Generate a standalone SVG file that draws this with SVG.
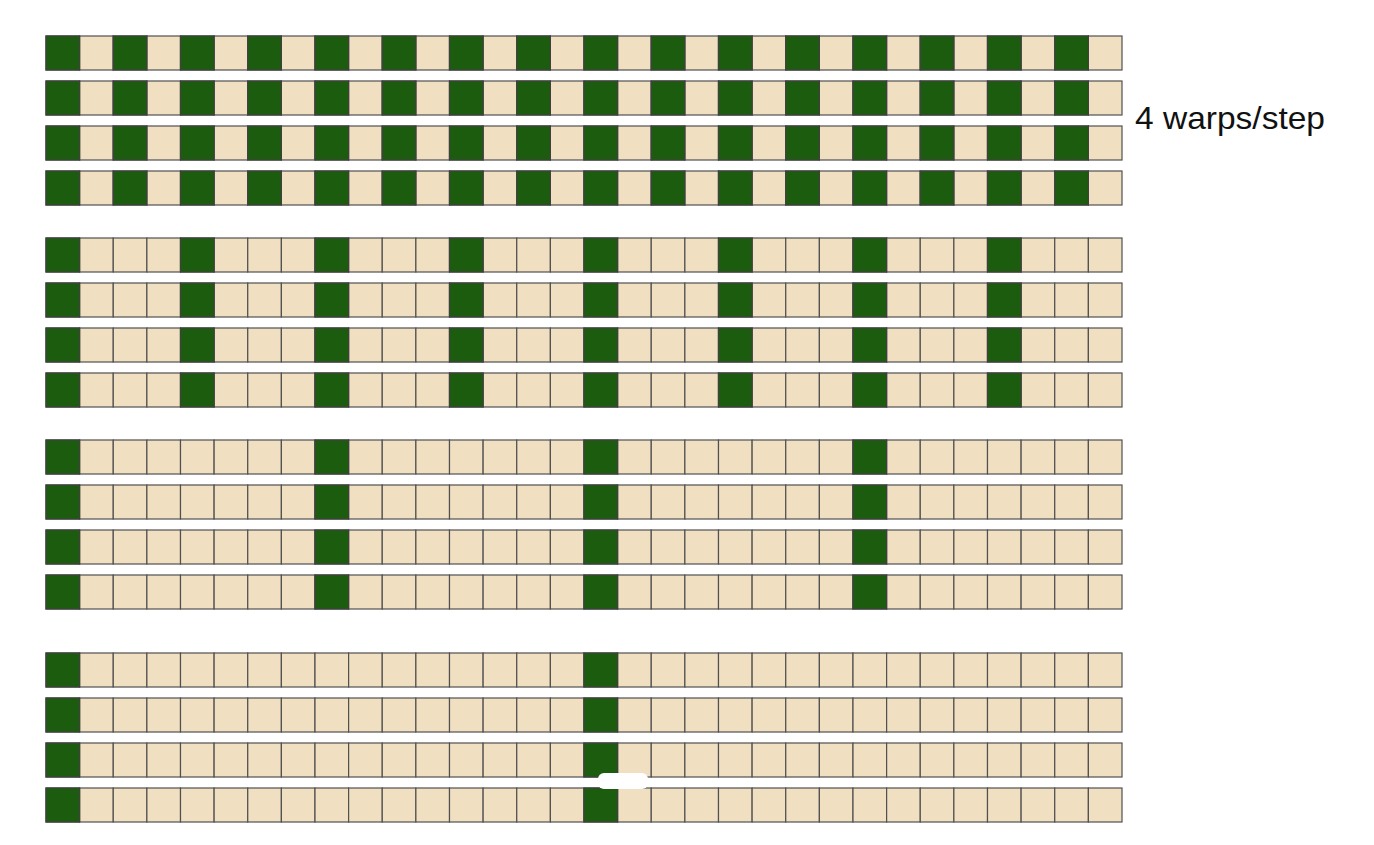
<svg xmlns="http://www.w3.org/2000/svg" xmlns:xlink="http://www.w3.org/1999/xlink" width="1374" height="845" viewBox="0 0 1374 845">
<style>
.c{fill:#f0dfc1;stroke:#505050;stroke-width:1.2}
.g{fill:#1c5c0f;stroke:#404040;stroke-width:1.2}
.lbl{font-family:"Liberation Sans",Arial,sans-serif;font-size:32px;fill:#111}
</style>
<defs>
<g id="base">
<rect class="c" x="46" y="0" width="33.625" height="34"/><rect class="c" x="79.625" y="0" width="33.625" height="34"/><rect class="c" x="113.25" y="0" width="33.625" height="34"/><rect class="c" x="146.875" y="0" width="33.625" height="34"/><rect class="c" x="180.5" y="0" width="33.625" height="34"/><rect class="c" x="214.125" y="0" width="33.625" height="34"/><rect class="c" x="247.75" y="0" width="33.625" height="34"/><rect class="c" x="281.375" y="0" width="33.625" height="34"/><rect class="c" x="315" y="0" width="33.625" height="34"/><rect class="c" x="348.625" y="0" width="33.625" height="34"/><rect class="c" x="382.25" y="0" width="33.625" height="34"/><rect class="c" x="415.875" y="0" width="33.625" height="34"/><rect class="c" x="449.5" y="0" width="33.625" height="34"/><rect class="c" x="483.125" y="0" width="33.625" height="34"/><rect class="c" x="516.75" y="0" width="33.625" height="34"/><rect class="c" x="550.375" y="0" width="33.625" height="34"/><rect class="c" x="584" y="0" width="33.625" height="34"/><rect class="c" x="617.625" y="0" width="33.625" height="34"/><rect class="c" x="651.25" y="0" width="33.625" height="34"/><rect class="c" x="684.875" y="0" width="33.625" height="34"/><rect class="c" x="718.5" y="0" width="33.625" height="34"/><rect class="c" x="752.125" y="0" width="33.625" height="34"/><rect class="c" x="785.75" y="0" width="33.625" height="34"/><rect class="c" x="819.375" y="0" width="33.625" height="34"/><rect class="c" x="853" y="0" width="33.625" height="34"/><rect class="c" x="886.625" y="0" width="33.625" height="34"/><rect class="c" x="920.25" y="0" width="33.625" height="34"/><rect class="c" x="953.875" y="0" width="33.625" height="34"/><rect class="c" x="987.5" y="0" width="33.625" height="34"/><rect class="c" x="1021.125" y="0" width="33.625" height="34"/><rect class="c" x="1054.75" y="0" width="33.625" height="34"/><rect class="c" x="1088.375" y="0" width="33.625" height="34"/>
</g>
<g id="g16">
<rect class="g" x="584" y="0" width="33.625" height="34"/><rect class="g" x="46" y="0" width="33.625" height="34"/>
</g>
<g id="g8">
<use xlink:href="#g16"/>
<rect class="g" x="315" y="0" width="33.625" height="34"/><rect class="g" x="853" y="0" width="33.625" height="34"/>
</g>
<g id="g4">
<use xlink:href="#g8"/>
<rect class="g" x="180.5" y="0" width="33.625" height="34"/><rect class="g" x="449.5" y="0" width="33.625" height="34"/><rect class="g" x="718.5" y="0" width="33.625" height="34"/><rect class="g" x="987.5" y="0" width="33.625" height="34"/>
</g>
<g id="g2">
<use xlink:href="#g4"/>
<rect class="g" x="113.25" y="0" width="33.625" height="34"/><rect class="g" x="247.75" y="0" width="33.625" height="34"/><rect class="g" x="382.25" y="0" width="33.625" height="34"/><rect class="g" x="516.75" y="0" width="33.625" height="34"/><rect class="g" x="651.25" y="0" width="33.625" height="34"/><rect class="g" x="785.75" y="0" width="33.625" height="34"/><rect class="g" x="920.25" y="0" width="33.625" height="34"/><rect class="g" x="1054.75" y="0" width="33.625" height="34"/>
</g>
</defs>
<rect width="1374" height="845" fill="#ffffff"/>
<g id="step1">
<g id="r1" transform="translate(0,36)"><use xlink:href="#base"/><use xlink:href="#g2"/></g>
<g id="r2" transform="translate(0,81)"><use xlink:href="#base"/><use xlink:href="#g2"/></g>
<g id="r3" transform="translate(0,126)"><use xlink:href="#base"/><use xlink:href="#g2"/></g>
<g id="r4" transform="translate(0,171)"><use xlink:href="#base"/><use xlink:href="#g2"/></g>
</g>
<g id="step2">
<g id="r5" transform="translate(0,238)"><use xlink:href="#base"/><use xlink:href="#g4"/></g>
<g id="r6" transform="translate(0,283)"><use xlink:href="#base"/><use xlink:href="#g4"/></g>
<g id="r7" transform="translate(0,328)"><use xlink:href="#base"/><use xlink:href="#g4"/></g>
<g id="r8" transform="translate(0,373)"><use xlink:href="#base"/><use xlink:href="#g4"/></g>
</g>
<g id="step3">
<g id="r9" transform="translate(0,440)"><use xlink:href="#base"/><use xlink:href="#g8"/></g>
<g id="r10" transform="translate(0,485)"><use xlink:href="#base"/><use xlink:href="#g8"/></g>
<g id="r11" transform="translate(0,530)"><use xlink:href="#base"/><use xlink:href="#g8"/></g>
<g id="r12" transform="translate(0,575)"><use xlink:href="#base"/><use xlink:href="#g8"/></g>
</g>
<g id="step4">
<g id="r13" transform="translate(0,653)"><use xlink:href="#base"/><use xlink:href="#g16"/></g>
<g id="r14" transform="translate(0,698)"><use xlink:href="#base"/><use xlink:href="#g16"/></g>
<g id="r15" transform="translate(0,743)"><use xlink:href="#base"/><use xlink:href="#g16"/></g>
<g id="r16" transform="translate(0,788)"><use xlink:href="#base"/><use xlink:href="#g16"/></g>
</g>
<g id="connectors"></g>
<rect x="598" y="773" width="50" height="16" rx="6" fill="#ffffff"/>
<g id="label"><text class="lbl" x="1135" y="129" textLength="190" lengthAdjust="spacingAndGlyphs">4 warps/step</text></g>
</svg>
